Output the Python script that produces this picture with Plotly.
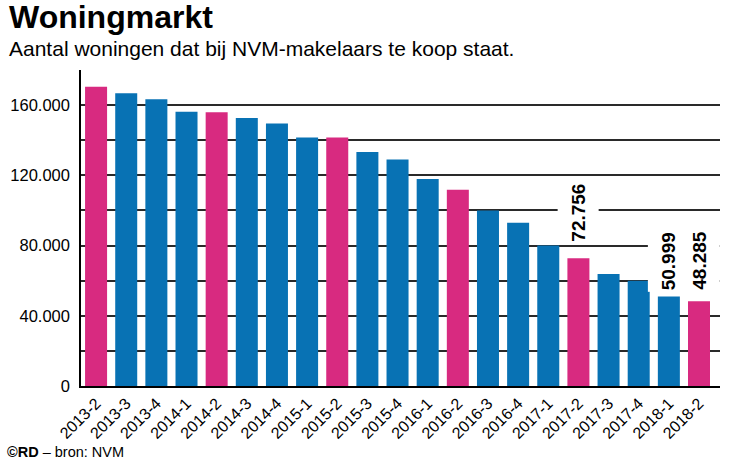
import plotly.graph_objects as go

categories = ["2013-2", "2013-3", "2013-4", "2014-1", "2014-2", "2014-3", "2014-4",
              "2015-1", "2015-2", "2015-3", "2015-4", "2016-1", "2016-2", "2016-3",
              "2016-4", "2017-1", "2017-2", "2017-3", "2017-4", "2018-1", "2018-2"]
values = [170500, 166700, 163400, 156200, 156000, 152600, 149500,
          141500, 141500, 133300, 129000, 117900, 111800, 100000,
          93000, 80000, 72756, 63800, 60000, 50999, 48285]
labelled = ["2017-2", "2018-1", "2018-2"]
y_ticks = [0, 20000, 40000, 60000, 80000, 100000, 120000, 140000, 160000, 180000]
y_ticktext = ["0", "", "40.000", "", "80.000", "", "120.000", "", "160.000", ""]

title = "Woningmarkt"
subtitle = "Aantal woningen dat bij NVM-makelaars te koop staat."
source = "<b>©RD</b> – bron: NVM"

PINK = "#d82a80"
BLUE = "#0872b4"
label_shift = {"2017-2": 15, "2018-1": 4, "2018-2": 9}

def fmt(v):
    return f"{v:,}".replace(",", ".")

colors = [PINK if c.endswith("-2") else BLUE for c in categories]

BASE = "Liberation Sans, Arial, sans-serif"

fig = go.Figure()
fig.add_trace(go.Bar(x=categories, y=values, marker=dict(color=colors, line=dict(width=0)),
                     hoverinfo="x+y"))

annotations = []
for c in labelled:
    v = values[categories.index(c)]
    annotations.append(dict(
        x=c, y=v, xref="x", yref="y", text=fmt(v), textangle=-90,
        showarrow=False, yanchor="bottom", xanchor="center",
        yshift=label_shift[c], bgcolor="white", height=38, borderpad=1,
        font=dict(family=BASE, size=19, color="black", weight="bold")))

annotations.append(dict(x=0, y=1, xref="paper", yref="paper", xanchor="left", yanchor="middle",
                        xshift=-74, yshift=53, showarrow=False, text="<b>" + title + "</b>",
                        font=dict(family=BASE, size=32, color="black")))
annotations.append(dict(x=0, y=1, xref="paper", yref="paper", xanchor="left", yanchor="middle",
                        xshift=-74, yshift=22, showarrow=False, text=subtitle,
                        font=dict(family=BASE, size=21, color="black")))
annotations.append(dict(x=0, y=0, xref="paper", yref="paper", xanchor="left", yanchor="middle",
                        xshift=-76, yshift=-66, showarrow=False, text=source,
                        font=dict(family=BASE, size=14.5, color="black")))

fig.update_layout(
    width=730, height=460,
    margin=dict(l=74, r=10, t=70, b=74),
    paper_bgcolor="white", plot_bgcolor="white",
    bargap=0.27, showlegend=False,
    annotations=annotations,
    font=dict(family=BASE, color="black"),
)
fig.update_xaxes(type="category", tickangle=-45, tickfont=dict(size=16, color="black"),
                 showline=True, linecolor="black", linewidth=1.5, showgrid=False,
                 ticks="", fixedrange=True)
fig.update_yaxes(range=[0, 180000], tickvals=y_ticks, ticktext=y_ticktext,
                 tickfont=dict(size=16.5, color="black"), showgrid=True,
                 gridcolor="#2a2a2a", gridwidth=1.5, zeroline=False,
                 showline=True, linecolor="black", linewidth=1.5, ticks="",
                 ticklabelstandoff=6, fixedrange=True)

fig.write_html("out.html")
